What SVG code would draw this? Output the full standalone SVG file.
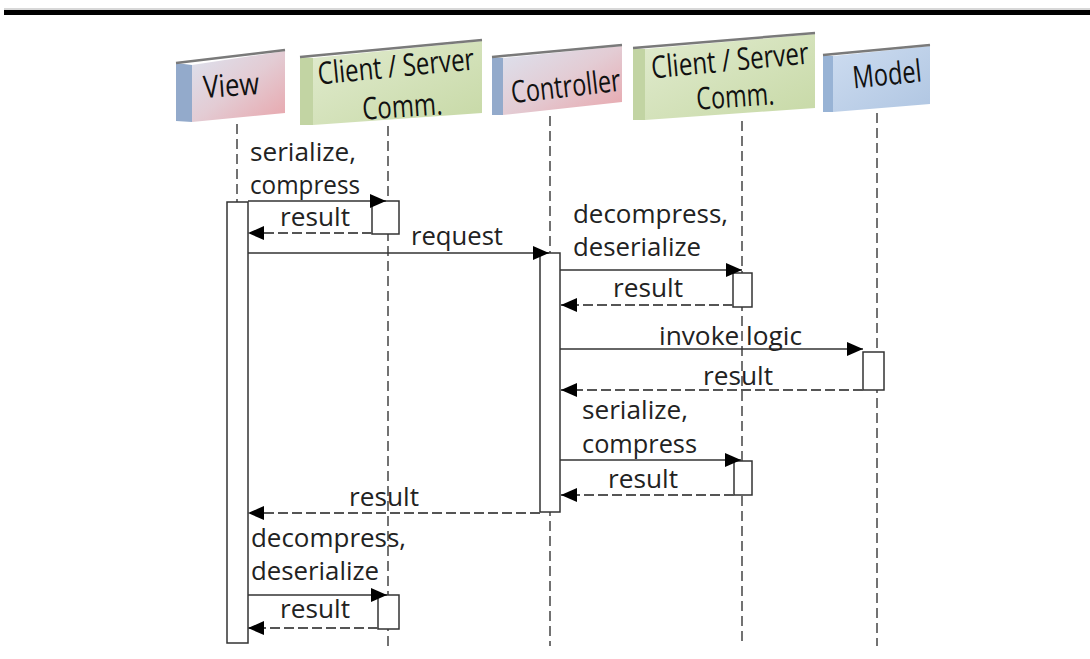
<svg xmlns="http://www.w3.org/2000/svg" width="1090" height="659" viewBox="0 0 1090 659">
<defs>
<linearGradient id="gPink" x1="0" y1="0" x2="1" y2="1">
<stop offset="0" stop-color="#dce2ef"/><stop offset="0.5" stop-color="#e3ccd4"/><stop offset="1" stop-color="#e8a6ac"/>
</linearGradient>
<linearGradient id="gGreen" x1="0" y1="0" x2="1" y2="1">
<stop offset="0" stop-color="#e1ebcf"/><stop offset="1" stop-color="#c7d9a6"/>
</linearGradient>
<linearGradient id="gBlue" x1="0" y1="0" x2="1" y2="1">
<stop offset="0" stop-color="#cddcf0"/><stop offset="1" stop-color="#b0c6e2"/>
</linearGradient>
<marker id="ah" markerUnits="userSpaceOnUse" markerWidth="18" markerHeight="16" refX="16" refY="8" orient="auto">
<path d="M0,1 L16,8 L0,15 Z" fill="#000"/>
</marker>
</defs>
<style>
.sideB{fill:#93aacb}
.sideG{fill:#c2d4a3}
.sideM{fill:#98b3d5}
.topE{stroke:#7a7a7a;stroke-width:2.5;fill:none}
.blbl{font-family:"Open Sans","Liberation Sans",sans-serif;font-size:31px;fill:#111;text-anchor:middle}
.life{stroke:#444;stroke-width:1.5;stroke-dasharray:10 5;fill:none}
.act{fill:#fff;stroke:#333;stroke-width:1.5}
.msg{stroke:#333;stroke-width:1.6;fill:none;marker-end:url(#ah)}
.ret{stroke:#555;stroke-width:1.8;stroke-dasharray:10 4;fill:none;marker-end:url(#ah)}
.lbl{font-family:"Open Sans","Liberation Sans",sans-serif;font-size:25px;fill:#222}
</style>
<rect x="0" y="0" width="1090" height="659" fill="#fff"/>
<line x1="4" y1="9" x2="1090" y2="9" stroke="#b0b0b0" stroke-width="1"/>
<rect x="4" y="10" width="1086" height="5" fill="#000"/>

<g id="view">
<polygon class="sideB" points="176,63 192,65 192,122 176,121"/>
<polygon fill="url(#gPink)" points="192,65 285,51 285,113 192,122"/>
<line class="topE" x1="176" y1="63" x2="285" y2="50"/>
<text class="blbl" x="232" y="96" textLength="56" lengthAdjust="spacingAndGlyphs" transform="rotate(-4 232 96)">View</text>
<line class="life" x1="237" y1="124" x2="237" y2="202"/>
<rect class="act" x="227" y="202" width="21" height="441"/>
</g>

<g id="client-server-1">
<polygon class="sideG" points="300,57 313,58 313,125 300,125"/>
<polygon fill="url(#gGreen)" points="313,58 482,41 482,113 313,125"/>
<line class="topE" x1="300" y1="57" x2="482" y2="40"/>
<text class="blbl" x="397" y="77" textLength="157" lengthAdjust="spacingAndGlyphs" transform="rotate(-5.5 397 77)">Client / Server</text>
<text class="blbl" x="403" y="117" textLength="80" lengthAdjust="spacingAndGlyphs" transform="rotate(-4 403 117)">Comm.</text>
<line class="life" x1="388" y1="126" x2="388" y2="646"/>
<rect class="act" x="372" y="201" width="27" height="33"/>
<rect class="act" x="378" y="595" width="21" height="34"/>
</g>

<g id="controller">
<polygon class="sideB" points="492,57 503,58 503,115 492,115"/>
<polygon fill="url(#gPink)" points="503,58 622,46 622,102 503,115"/>
<line class="topE" x1="492" y1="57" x2="622" y2="45"/>
<text class="blbl" x="567" y="97" textLength="110" lengthAdjust="spacingAndGlyphs" transform="rotate(-6.5 567 97)">Controller</text>
<line class="life" x1="550" y1="116" x2="550" y2="646"/>
<rect class="act" x="540" y="253" width="20" height="259"/>
</g>

<g id="client-server-2">
<polygon class="sideG" points="633,48 645,49 645,120 633,120"/>
<polygon fill="url(#gGreen)" points="645,49 815,34 815,108 645,120"/>
<line class="topE" x1="633" y1="48" x2="815" y2="33"/>
<text class="blbl" x="731" y="71" textLength="158" lengthAdjust="spacingAndGlyphs" transform="rotate(-5.4 731 71)">Client / Server</text>
<text class="blbl" x="736" y="107" textLength="78" lengthAdjust="spacingAndGlyphs" transform="rotate(-4 736 107)">Comm.</text>
<line class="life" x1="742" y1="121" x2="742" y2="646"/>
<rect class="act" x="733" y="273" width="19" height="34"/>
<rect class="act" x="734" y="461" width="18" height="34"/>
</g>

<g id="model">
<polygon class="sideM" points="823,55 833,56 833,112 823,112"/>
<polygon fill="url(#gBlue)" points="833,56 930,46 930,104 833,112"/>
<line class="topE" x1="823" y1="55" x2="930" y2="45"/>
<text class="blbl" x="888" y="85" textLength="69" lengthAdjust="spacingAndGlyphs" transform="rotate(-5.8 888 85)">Model</text>
<line class="life" x1="877" y1="113" x2="877" y2="646"/>
<rect class="act" x="863" y="352" width="21" height="38"/>
</g>

<g id="connectors">
<line class="msg" x1="248" y1="201" x2="386" y2="201"/>
<line class="ret" x1="372" y1="233" x2="248" y2="233"/>
<line class="msg" x1="248" y1="253" x2="549" y2="253"/>
<line class="msg" x1="560" y1="270" x2="742" y2="270"/>
<line class="ret" x1="733" y1="305" x2="561" y2="305"/>
<line class="msg" x1="560" y1="349" x2="863" y2="349"/>
<line class="ret" x1="863" y1="390" x2="561" y2="390"/>
<line class="msg" x1="560" y1="460" x2="741" y2="460"/>
<line class="ret" x1="734" y1="495" x2="561" y2="495"/>
<line class="ret" x1="540" y1="513" x2="248" y2="513"/>
<line class="msg" x1="248" y1="595" x2="387" y2="595"/>
<line class="ret" x1="378" y1="628" x2="248" y2="628"/>
</g>

<g id="labels">
<text class="lbl" x="250" y="161" textLength="106" lengthAdjust="spacingAndGlyphs">serialize,</text>
<text class="lbl" x="250" y="194" textLength="110" lengthAdjust="spacingAndGlyphs">compress</text>
<text class="lbl" x="280" y="226" textLength="70" lengthAdjust="spacingAndGlyphs">result</text>
<text class="lbl" x="411" y="245" textLength="92" lengthAdjust="spacingAndGlyphs">request</text>
<text class="lbl" x="573" y="223" textLength="155" lengthAdjust="spacingAndGlyphs">decompress,</text>
<text class="lbl" x="573" y="256" textLength="128" lengthAdjust="spacingAndGlyphs">deserialize</text>
<text class="lbl" x="613" y="297" textLength="70" lengthAdjust="spacingAndGlyphs">result</text>
<text class="lbl" x="659" y="345" textLength="143" lengthAdjust="spacingAndGlyphs">invoke logic</text>
<text class="lbl" x="703" y="385" textLength="70" lengthAdjust="spacingAndGlyphs">result</text>
<text class="lbl" x="582" y="419" textLength="106" lengthAdjust="spacingAndGlyphs">serialize,</text>
<text class="lbl" x="582" y="453" textLength="115" lengthAdjust="spacingAndGlyphs">compress</text>
<text class="lbl" x="608" y="488" textLength="70" lengthAdjust="spacingAndGlyphs">result</text>
<text class="lbl" x="349" y="506" textLength="70" lengthAdjust="spacingAndGlyphs">result</text>
<text class="lbl" x="251" y="547" textLength="155" lengthAdjust="spacingAndGlyphs">decompress,</text>
<text class="lbl" x="251" y="580" textLength="128" lengthAdjust="spacingAndGlyphs">deserialize</text>
<text class="lbl" x="280" y="618" textLength="70" lengthAdjust="spacingAndGlyphs">result</text>
</g>
</svg>
